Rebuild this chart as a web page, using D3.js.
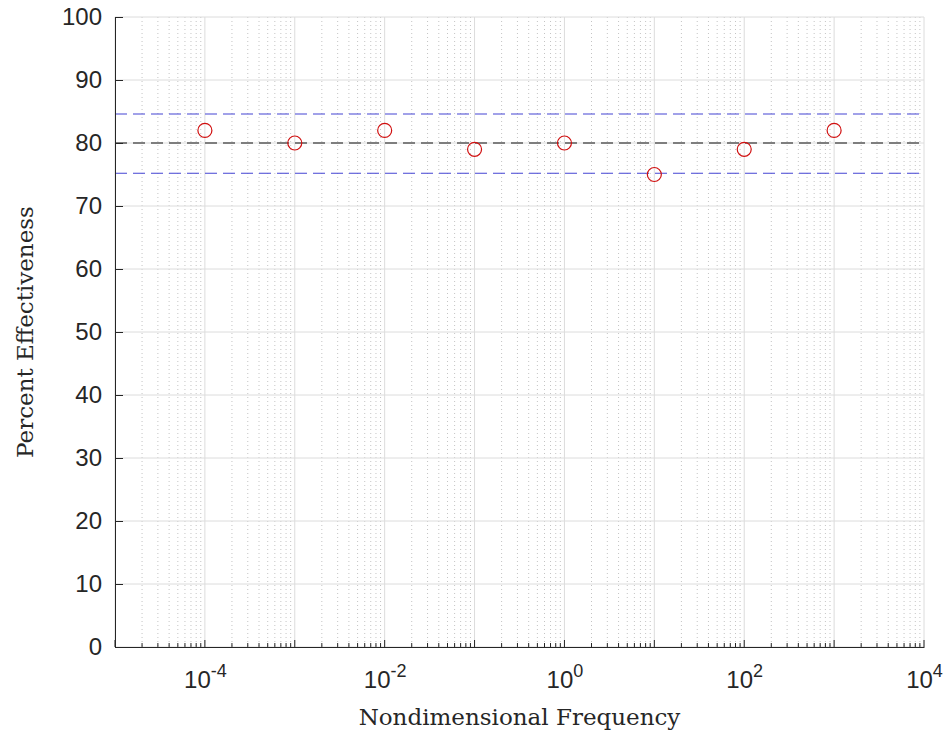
<!DOCTYPE html>
<meta charset="utf-8">
<head>
  <script src="https://d3js.org/d3.v7.min.js"></script>
</head>
<style>
  body { margin: 0; background: #fff; }
  .tick text { font-family: "Liberation Sans", sans-serif; font-size: 24px; fill: #262626; }
  .axlabel { font-family: "DejaVu Serif", "Liberation Serif", serif; font-size: 23px; fill: #262626; }
</style>
<body>
<svg></svg>
<script>

// data
let freqs = [1e-4, 1e-3, 1e-2, 1e-1, 1e0, 1e1, 1e2, 1e3];
let effectiveness = [82, 80, 82, 79, 80, 75, 79, 82];
let meanLine = 80;
let bandLines = [84.6, 75.2];
let yTicks = [0, 10, 20, 30, 40, 50, 60, 70, 80, 90, 100];
let xTickExps = [-4, -2, 0, 2, 4];

let margin = {top: 17, right: 24, bottom: 86, left: 115};
let width = 948 - margin.left - margin.right;
let height = 733 - margin.top - margin.bottom;

let svg = d3.select("svg")
    .attr("width", 948)
    .attr("height", 733)
  .append("g")
    .attr("transform", "translate(" + margin.left + "," + margin.top + ")");

let x = d3.scaleLog().domain([1e-5, 1e4]).range([0, width]);
let y = d3.scaleLinear().domain([0, 100]).range([height, 0]);

// minor grid (dotted) at 2..9 of each decade
let minor = [];
for (let e = -5; e < 4; e++) {
  for (let m = 2; m <= 9; m++) minor.push(m * Math.pow(10, e));
}
svg.append("g").selectAll("line")
  .data(minor).enter().append("line")
    .attr("x1", d => x(d)).attr("x2", d => x(d))
    .attr("y1", 0).attr("y2", height)
    .attr("stroke", "#c4c4c4")
    .attr("stroke-dasharray", "1,3");

// major grid
let decades = d3.range(-5, 5).map(e => Math.pow(10, e));
svg.append("g").selectAll("line")
  .data(decades).enter().append("line")
    .attr("x1", d => x(d)).attr("x2", d => x(d))
    .attr("y1", 0).attr("y2", height)
    .attr("stroke", "#dcdcdc");
svg.append("g").selectAll("line")
  .data(yTicks).enter().append("line")
    .attr("x1", 0).attr("x2", width)
    .attr("y1", d => y(d)).attr("y2", d => y(d))
    .attr("stroke", "#dcdcdc");

// reference lines
svg.append("line")
  .attr("x1", 0).attr("x2", width)
  .attr("y1", y(meanLine)).attr("y2", y(meanLine))
  .attr("stroke", "#5a5a5a").attr("stroke-width", 1.3)
  .attr("stroke-dasharray", "12,6");
svg.selectAll(".band")
  .data(bandLines).enter().append("line")
    .attr("class", "band")
    .attr("x1", 0).attr("x2", width)
    .attr("y1", d => y(d)).attr("y2", d => y(d))
    .attr("stroke", "#4444d4").attr("stroke-width", 1.2)
    .attr("stroke-dasharray", "12,6");

// markers
svg.selectAll(".pt")
  .data(freqs).enter().append("circle")
    .attr("class", "pt")
    .attr("cx", d => x(d))
    .attr("cy", (d, i) => y(effectiveness[i]))
    .attr("r", 7)
    .attr("fill", "none")
    .attr("stroke", "#d01010")
    .attr("stroke-width", 1.2);

// x axis
let xAxis = d3.axisBottom(x)
  .tickValues(xTickExps.map(e => Math.pow(10, e)))
  .tickSize(0)
  .tickFormat("");
let gx = svg.append("g")
  .attr("transform", "translate(0," + height + ")")
  .call(xAxis);
gx.select(".domain").attr("stroke", "#262626");
gx.selectAll(".tick").each(function(d) {
  let t = d3.select(this).append("text")
    .attr("y", 41)
    .attr("text-anchor", "middle");
  t.append("tspan").text("10");
  t.append("tspan")
    .attr("dy", -11)
    .style("font-size", "18px")
    .text(Math.round(Math.log10(d)));
});
// inward x ticks
gx.selectAll(".maj").data(decades).enter().append("line")
  .attr("x1", d => x(d)).attr("x2", d => x(d))
  .attr("y1", 0).attr("y2", -7)
  .attr("stroke", "#262626");
gx.selectAll(".min").data(minor).enter().append("line")
  .attr("x1", d => x(d)).attr("x2", d => x(d))
  .attr("y1", 0).attr("y2", -4)
  .attr("stroke", "#262626");

// y axis
let gy = svg.append("g")
  .call(d3.axisLeft(y).tickValues(yTicks).tickSizeInner(-8).tickSizeOuter(0).tickPadding(13));
gy.select(".domain").attr("stroke", "#262626");
gy.selectAll(".tick line").attr("stroke", "#262626");

// axis labels
svg.append("text")
  .attr("class", "axlabel")
  .attr("x", width / 2)
  .attr("y", height + 78)
  .attr("text-anchor", "middle")
  .text("Nondimensional Frequency");
svg.append("text")
  .attr("class", "axlabel")
  .attr("transform", "translate(" + (-82) + "," + (height / 2) + ") rotate(-90)")
  .attr("text-anchor", "middle")
  .text("Percent Effectiveness");

</script>
</body>
